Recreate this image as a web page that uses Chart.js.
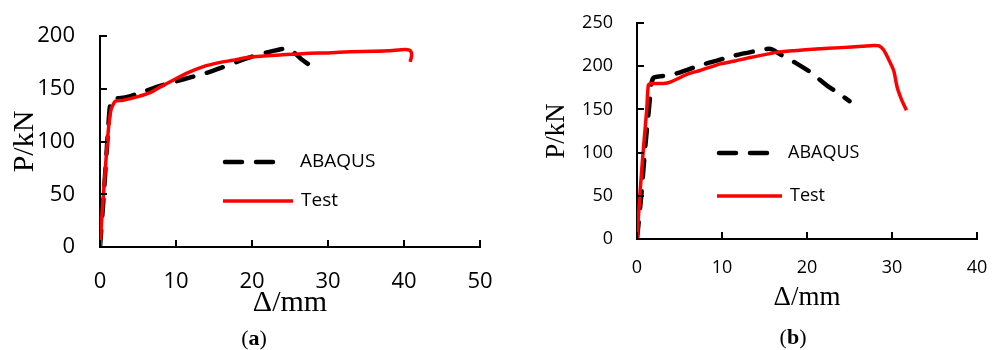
<!DOCTYPE html>
<html>
<head>
<meta charset="utf-8">
<script src="https://cdn.jsdelivr.net/npm/chart.js@4"></script>
<style>
  body { margin: 0; background: #fff; width: 992px; height: 350px; position: relative; overflow: hidden; }
  canvas { position: absolute; top: 0; }
  #chart-a { left: 0; }
  #chart-b { left: 496px; }
  .cap { position: absolute; font-family: "Liberation Serif", serif; font-size: 22px; line-height: 26px; transform: translateX(-50%); color: #000; }
</style>
</head>
<body>
<canvas id="chart-a" width="496" height="350"></canvas>
<canvas id="chart-b" width="496" height="350"></canvas>
<div class="cap" style="left:254px; top:325px">(<b>a</b>)</div>
<div class="cap" style="left:793px; top:324px">(<b>b</b>)</div>
<script>
// (a) data
const abaqusAx = [0, 0.5, 1.1, 1.3, 1.6, 2.5, 4, 6, 8, 10, 12, 14, 16, 18, 20, 22, 23.5, 24.5, 25.3, 26.5, 28.7];
const abaqusAy = [0, 50, 115, 133, 141, 141, 143, 148, 153, 157, 161, 165, 170, 175.5, 180.5, 184.5, 187, 188, 186, 178, 167];
const testAx = [0, 0.3, 0.66, 1.1, 1.45, 2.0, 3.0, 5, 6.5, 8, 9.6, 11.5, 13.6, 15.5, 17.5, 19.7, 21.5, 23.7, 27, 30, 33, 36, 38, 39.6, 40.5, 40.9, 41.0, 40.8];
const testAy = [0, 35, 70, 111, 130, 138, 139, 142.5, 146, 152, 158, 165, 171, 174.5, 177, 180, 181, 182, 183.5, 184, 185, 185.5, 186, 187, 187, 185.5, 181, 175.5];

// (b) data
const abaqusBx = [0, 0.5, 1.0, 1.4, 1.7, 2.0, 4.1, 6.0, 7.4, 9.4, 11.3, 13.7, 15.3, 16.0, 16.8, 18.8, 20.4, 22.3, 23.5, 25.0];
const abaqusBy = [0, 50, 110, 150, 180, 187, 190, 196, 201, 206.5, 212, 217, 220, 219, 214, 203, 193, 178, 170, 159.6];
const testBx = [0, 0.35, 0.74, 1.14, 1.33, 1.6, 3.1, 3.9, 6.0, 7.4, 9.8, 11.5, 13.3, 16.4, 18.5, 21.1, 24, 26.5, 27.8, 28.5, 29.0, 29.5, 30.2, 30.6, 31.1, 31.7];
const testBy = [0, 53, 103, 149, 178, 180, 180, 181.5, 191, 195, 202.7, 206, 210, 216, 218, 220, 221.5, 223, 224, 223.5, 219, 210, 195, 176, 162, 149];

const toPoints = (xs, ys) => xs.map((x, i) => ({ x: x, y: ys[i] }));

// tick marks pointing into the plot, placed from the scales' own ticks
const innerTicks = {
  id: "innerTicks",
  afterDraw(chart) {
    const ctx = chart.ctx;
    const { x, y } = chart.scales;
    ctx.save();
    ctx.strokeStyle = "#000";
    ctx.lineWidth = 2;
    ctx.beginPath();
    x.ticks.forEach((t) => {
      const px = Math.round(x.getPixelForValue(t.value));
      ctx.moveTo(px, x.top);
      ctx.lineTo(px, x.top - 7);
    });
    y.ticks.forEach((t) => {
      const py = Math.round(y.getPixelForValue(t.value));
      ctx.moveTo(y.right, py);
      ctx.lineTo(y.right + 7, py);
    });
    ctx.stroke();
    ctx.restore();
  },
};

// draws the legend entries inside the plot, using each dataset's own style
const legendBox = {
  id: "legendBox",
  afterDatasetsDraw(chart, args, opts) {
    const ctx = chart.ctx;
    chart.data.datasets.forEach((ds, i) => {
      const it = opts.items[i];
      ctx.save();
      ctx.strokeStyle = ds.borderColor;
      ctx.lineWidth = ds.borderWidth;
      ctx.lineCap = ds.borderCapStyle || "butt";
      ctx.setLineDash(ds.borderDash || []);
      ctx.beginPath();
      ctx.moveTo(it.x1, it.y);
      ctx.lineTo(it.x2, it.y);
      ctx.stroke();
      ctx.setLineDash([]);
      ctx.fillStyle = "#000";
      ctx.font = opts.font;
      ctx.textBaseline = "middle";
      ctx.fillText(ds.label, it.tx, it.y);
      ctx.restore();
    });
  },
};

const makeChart = (id, s) => {
  new Chart(document.getElementById(id), {
    type: "scatter",
    data: {
      datasets: [
        {
          label: "ABAQUS",
          data: toPoints(s.abaqusX, s.abaqusY),
          borderColor: "#000000",
          borderWidth: 4.5,
          borderDash: [17, 14],
          borderCapStyle: "round",
          showLine: true,
          pointRadius: 0,
          tension: 0.2,
          order: 1,
        },
        {
          label: "Test",
          data: toPoints(s.testX, s.testY),
          borderColor: "#ff0000",
          borderWidth: 3.5,
          showLine: true,
          pointRadius: 0,
          tension: 0.2,
          order: 0,
        },
      ],
    },
    options: {
      responsive: false,
      animation: false,
      devicePixelRatio: 1,
      layout: { padding: { top: s.top, right: s.right, left: 0, bottom: 0 } },
      plugins: {
        legend: { display: false },
        tooltip: { enabled: false },
        legendBox: { items: s.legend, font: s.legendFont },
      },
      scales: {
        x: {
          type: "linear",
          min: 0,
          max: s.xMax,
          ticks: { stepSize: 10, color: "#000", padding: 0, font: { family: "Open Sans", size: s.tickSize } },
          grid: { display: true, drawOnChartArea: false, drawTicks: true, tickLength: s.xTickGap, tickColor: "rgba(0,0,0,0)" },
          border: { display: true, color: "#000", width: 2 },
          title: {
            display: true,
            text: "Δ/mm",
            color: "#000",
            font: { family: "Liberation Serif", size: s.titleSize },
            padding: { top: 0, bottom: s.xTitlePad },
          },
          afterFit: (sc) => { sc.height = 350 - s.bottom; },
        },
        y: {
          type: "linear",
          min: 0,
          max: s.yMax,
          ticks: { stepSize: 50, color: "#000", padding: 0, font: { family: "Open Sans", size: s.tickSize } },
          grid: { display: true, drawOnChartArea: false, drawTicks: true, tickLength: s.yTickGap, tickColor: "rgba(0,0,0,0)" },
          border: { display: true, color: "#000", width: 2 },
          title: {
            display: true,
            text: "P/kN",
            color: "#000",
            font: { family: "Liberation Serif", size: s.titleSize },
            padding: { top: s.yTitlePad, bottom: 0 },
          },
          afterFit: (sc) => { sc.width = s.left; },
        },
      },
    },
    plugins: [legendBox, innerTicks],
  });
};

makeChart("chart-a", {
  abaqusX: abaqusAx, abaqusY: abaqusAy, testX: testAx, testY: testAy,
  xMax: 50, yMax: 200,
  left: 100, top: 36, right: 16, bottom: 247,
  tickSize: 22, titleSize: 30,
  xTickGap: 22, yTickGap: 25, xTitlePad: 29, yTitlePad: 7,
  legendFont: "19px 'Open Sans'",
  legend: [
    { x1: 225, x2: 277, y: 162, tx: 300 },
    { x1: 223, x2: 293, y: 201, tx: 301 },
  ],
});

makeChart("chart-b", {
  abaqusX: abaqusBx, abaqusY: abaqusBy, testX: testBx, testY: testBy,
  xMax: 40, yMax: 250,
  left: 141, top: 23, right: 15, bottom: 239,
  tickSize: 18, titleSize: 27,
  xTickGap: 18, yTickGap: 24, xTitlePad: 36, yTitlePad: 45,
  legendFont: "18px 'Open Sans'",
  legend: [
    { x1: 223, x2: 271, y: 153, tx: 292 },
    { x1: 221, x2: 286, y: 196, tx: 294 },
  ],
});
</script>
</body>
</html>
